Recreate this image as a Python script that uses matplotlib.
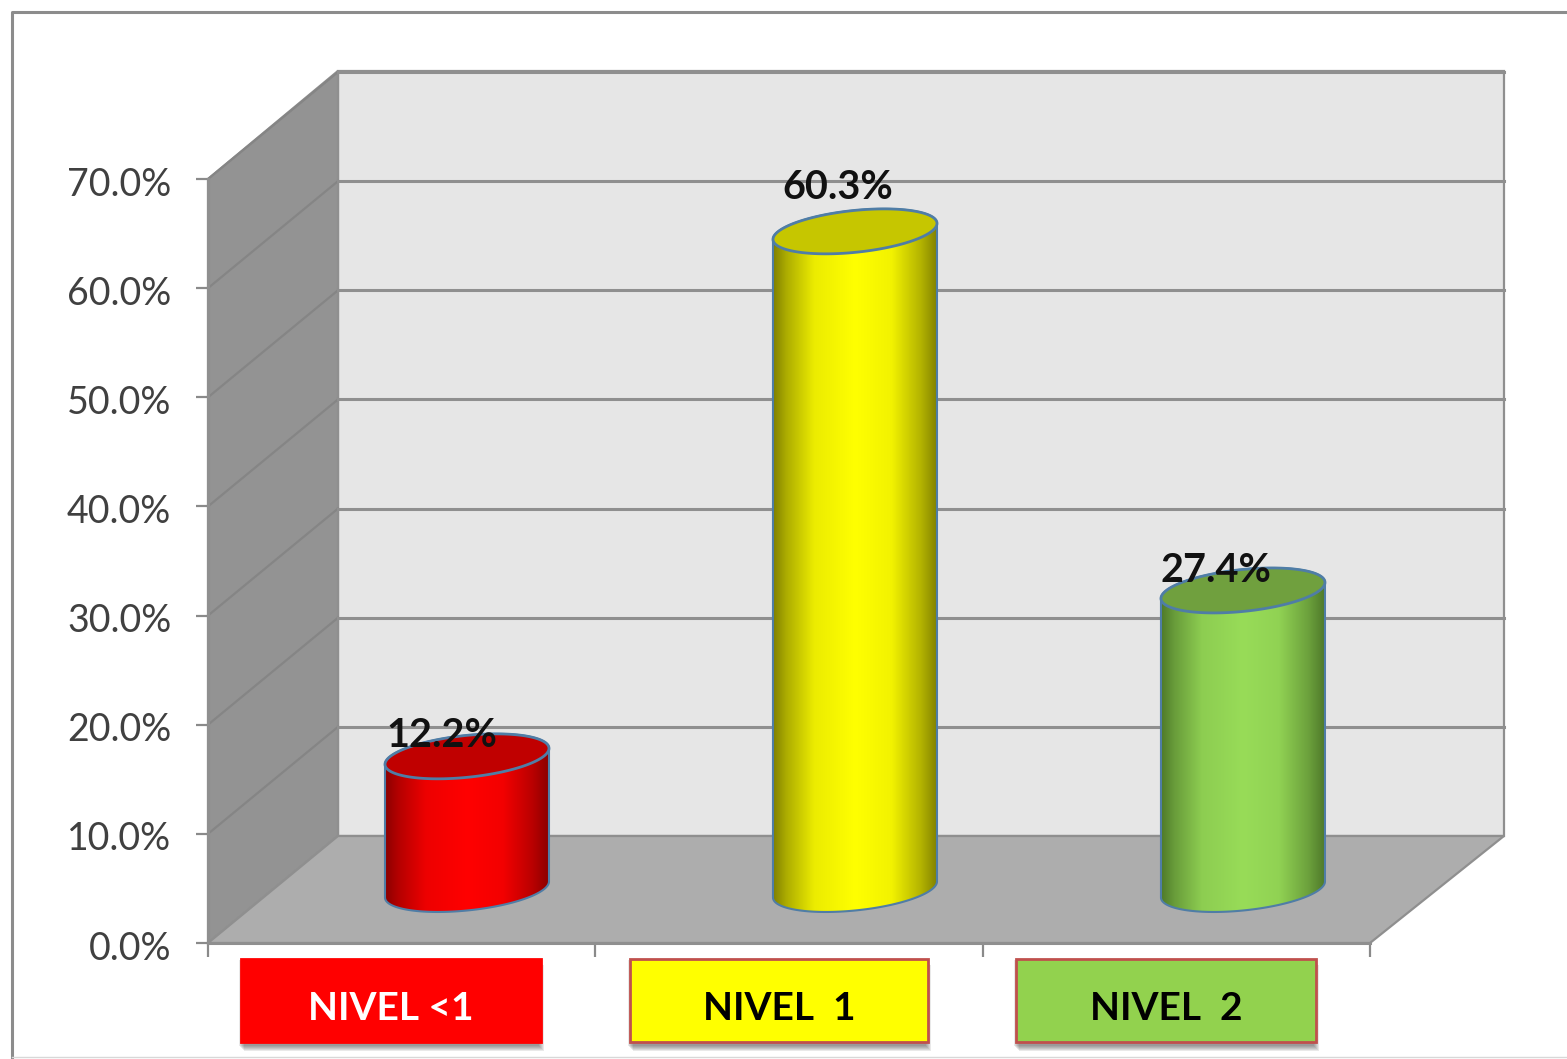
import numpy as np
import matplotlib
matplotlib.use("Agg")
import matplotlib.pyplot as plt
from matplotlib.colors import to_rgb
from matplotlib.patches import Polygon, Rectangle
from matplotlib.transforms import ScaledTranslation

categorias = ['NIVEL <1', 'NIVEL  1', 'NIVEL  2']
valores = [12.2, 60.3, 27.4]
y_ticks = [0, 10, 20, 30, 40, 50, 60, 70]

# colores de cada cilindro: centro, borde, tapa
centro = ['#ff0000', '#ffff00', '#98dc58']
borde = ['#8c0000', '#808000', '#4f7a2a']
tapa = ['#c00000', '#c6c600', '#70a03e']
caja = ['#ff0000', '#ffff00', '#92d24e']
caja_borde = ['#ff0000', '#c0504d', '#c0504d']
caja_texto = ['white', 'black', 'black']
caja_x = [241, 630, 1016]
caja_w = [300, 298, 300]
# desplazamiento de las etiquetas en pixeles respecto a la tapa
etiqueta_dx = [-25, -17, -27]
etiqueta_dy = [21, 44, 20]

W, H = 1567, 1059
fig = plt.figure(figsize=(W / 100, H / 100), dpi=100, facecolor='white')
plt.rcParams['font.family'] = ['Lato', 'DejaVu Sans']

# fondo en pixeles: marco y cajas de las categorias
bg = fig.add_axes([0, 0, 1, 1], zorder=0)
bg.set_xlim(0, W)
bg.set_ylim(H, 0)
bg.axis('off')
bg.plot([12, 12, W], [1059, 12, 12], color='#8c8c8c', lw=2.2)
bg.plot([12, W], [1057, 1057], color='#d8d8d8', lw=1)

for i, nombre in enumerate(categorias):
    for k in range(6):
        bg.add_patch(Rectangle((caja_x[i] + k - 2, 960 + k), caja_w[i], 86, color='#303030', alpha=0.1, lw=0))
    bg.add_patch(Rectangle((caja_x[i], 959), caja_w[i], 83, facecolor=caja[i], edgecolor=caja_borde[i], lw=2))
    bg.text(caja_x[i] + caja_w[i] / 2, 1008, nombre, color=caja_texto[i], fontsize=28, fontweight='bold',
            ha='center', va='center')

# ejes del grafico, el plano frontal
ax = fig.add_axes([208 / W, 1 - 943 / H, 1162 / W, 764 / H], zorder=1)
ax.patch.set_alpha(0)
ax.set_xlim(-0.5, 2.5)
ax.set_ylim(0, 70)

px_x = 1162 / 3
px_y = 764 / 70
DX = 130 / px_x
DY = 107 / px_y


def proy(x, v, d):
    # pasa un punto con profundidad d al plano frontal
    return -0.5 + (x + 0.5) * (1 + 0.0034 * d) + d * DX, v + d * DY


def pared(puntos, color):
    ax.add_patch(Polygon([proy(*p) for p in puntos], closed=True, facecolor=color, edgecolor='#8f8f8f',
                         lw=1.6, clip_on=False, zorder=1))


pared([(-0.5, 0, 1), (2.5, 0, 1), (2.5, 70.1, 1), (-0.5, 70.1, 1)], '#e6e6e6')
pared([(-0.5, 0, 0), (-0.5, 0, 1), (-0.5, 70.1, 1), (-0.5, 70, 0)], '#939393')
pared([(-0.5, 0, 0), (2.5, 0, 0), (2.5, 0, 1), (-0.5, 0, 1)], '#adadad')

for v in y_ticks:
    if v == 0:
        continue
    a = proy(-0.5, v, 0)
    b = proy(-0.5, v, 1)
    c = proy(2.5, v, 1)
    ax.plot([a[0], b[0]], [a[1], b[1]], color='#858585', lw=1.6, clip_on=False, zorder=2)
    ax.plot([b[0], c[0]], [b[1], c[1]], color='#8f8f8f', lw=2.2, clip_on=False, zorder=2)

# cilindros a media profundidad
rx = 82 / px_x
t = np.linspace(0, 2 * np.pi, 200)


def elipse(cx, cy, t):
    return cx + rx * np.cos(t), cy + (8 * np.cos(t) + 21 * np.sin(t)) / px_y


for i, v in enumerate(valores):
    cx, base = proy(i, 0, 0.5)
    cima = base + v
    x_ab, y_ab = elipse(cx, base, np.linspace(np.pi, 2 * np.pi, 100))
    x_ar, y_ar = elipse(cx, cima, np.linspace(0, np.pi, 100))
    cuerpo = np.column_stack([np.r_[x_ab, x_ar], np.r_[y_ab, y_ar]])

    u = np.linspace(0, 1, 256)[None, :, None]
    mezcla = np.interp(u, [0, 0.08, 0.25, 0.5, 0.72, 0.9, 1], [0, 0.35, 0.85, 1, 0.9, 0.4, 0])
    grad = np.array(to_rgb(borde[i]))[None, None, :] * (1 - mezcla) + np.array(to_rgb(centro[i]))[None, None, :] * mezcla
    im = ax.imshow(grad, extent=[cx - rx, cx + rx, base - 30 / px_y, cima + 30 / px_y], aspect='auto', zorder=3)
    parche = Polygon(cuerpo, closed=True, transform=ax.transData, facecolor='none', edgecolor='none')
    ax.add_patch(parche)
    im.set_clip_path(parche)
    ax.add_patch(Polygon(cuerpo, closed=True, facecolor='none', edgecolor='#4f7da6', lw=1.5, zorder=4))

    xe, ye = elipse(cx, cima, t)
    ax.add_patch(Polygon(np.column_stack([xe, ye]), closed=True, facecolor=tapa[i], edgecolor='#4f7da6', lw=2, zorder=5))

    ax.annotate('%.1f%%' % v, (cx, cima), xytext=(etiqueta_dx[i] * 0.72, etiqueta_dy[i] * 0.72),
                textcoords='offset points', ha='center', va='center', fontsize=28.5, fontweight='bold',
                color='#111111', zorder=6, annotation_clip=False)

ax.set_xlim(-0.5, 2.5)
ax.set_ylim(0, 70)

ax.set_yticks(y_ticks)
ax.set_yticklabels(['%.1f%%' % v for v in y_ticks])
ax.set_xticks([-0.5, 0.5, 1.5, 2.5])
ax.set_xticklabels([])
ax.tick_params(axis='y', length=8.5, width=1.6, color='#8a8a8a', labelsize=27, labelcolor='#404040', pad=18)
ax.tick_params(axis='x', length=10, width=1.6, color='#8a8a8a')
# las etiquetas del eje y van un poco mas abajo que la marca
bajar = ScaledTranslation(0, -2 / 100, fig.dpi_scale_trans)
for etiqueta in ax.get_yticklabels():
    etiqueta.set_transform(etiqueta.get_transform() + bajar)
for lado in ['top', 'right']:
    ax.spines[lado].set_visible(False)
for lado in ['left', 'bottom']:
    ax.spines[lado].set_color('#8f8f8f')
    ax.spines[lado].set_linewidth(2.2)

fig.savefig('out.png', dpi=100)
